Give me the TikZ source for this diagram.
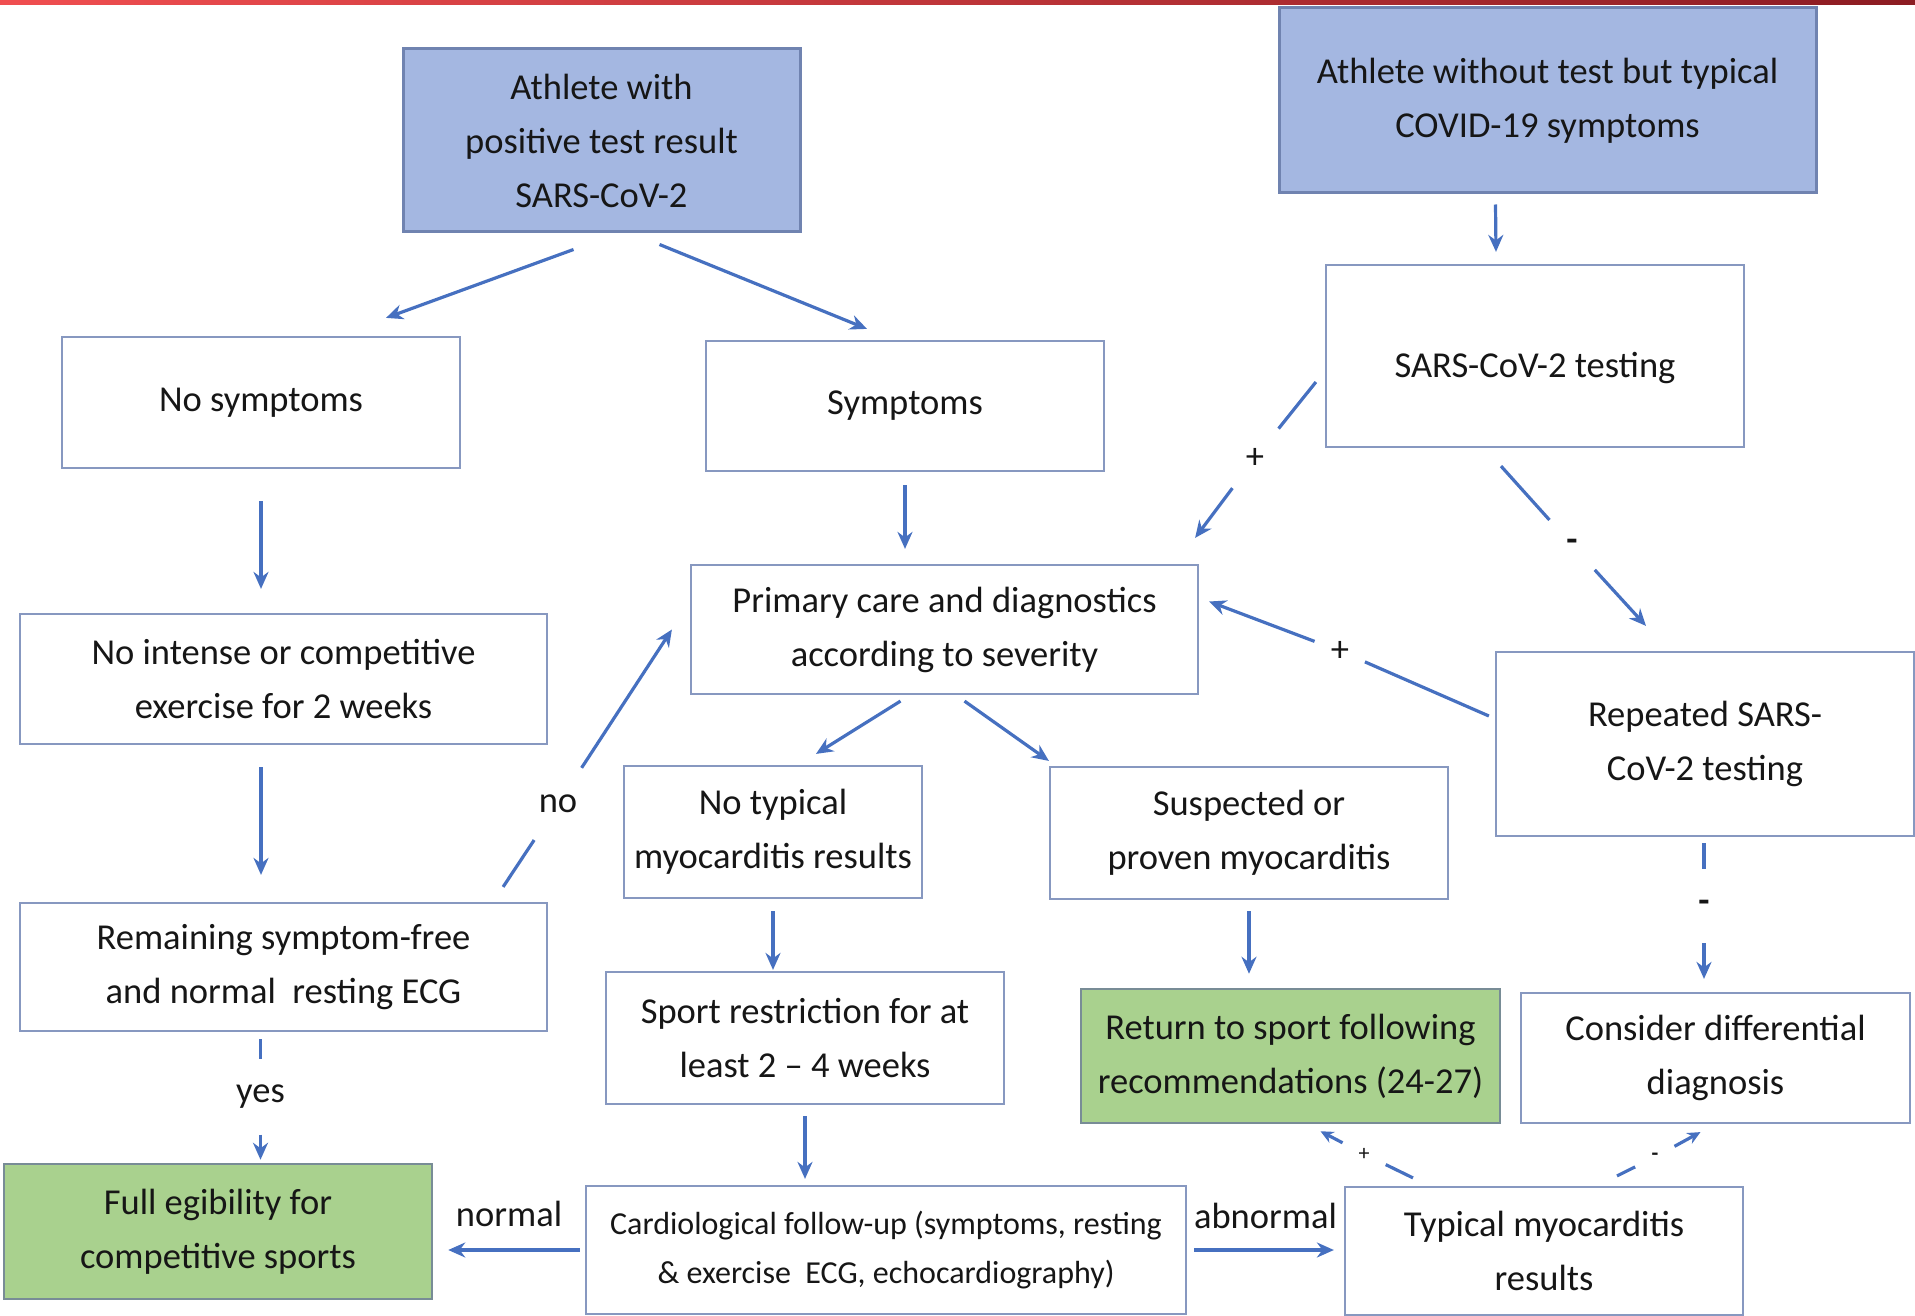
\documentclass[tikz,border=0pt]{standalone}
\usepackage{fontspec}
\setmainfont{Carlito}
\usetikzlibrary{arrows.meta}
\definecolor{topfill}{RGB}{164,183,225}
\definecolor{topline}{RGB}{112,131,176}
\definecolor{endfill}{RGB}{169,209,142}
\definecolor{endline}{RGB}{120,140,150}
\definecolor{boxline}{RGB}{135,152,192}
\definecolor{arrowblue}{RGB}{70,112,192}
\definecolor{txt}{RGB}{22,22,22}
\definecolor{barL}{RGB}{240,78,80}
\definecolor{barR}{RGB}{140,28,34}
\begin{document}
\begin{tikzpicture}[
  x=1pt, y=-1pt,
  font=\fontsize{36.5}{54}\selectfont,
  box/.style={rectangle,draw=boxline,line width=2.2pt,fill=white,align=center,inner sep=0pt,text=txt},
  topbox/.style={box,draw=topline,fill=topfill,line width=3pt},
  endbox/.style={box,draw=endline,fill=endfill,line width=2.5pt},
  conn/.style={draw=arrowblue,line width=3.2pt},
  arr/.style={conn,-{Stealth[length=17pt,width=15pt]}},
  lbl/.style={circle,inner sep=0pt,text=txt},
]
  \useasboundingbox (0,0) rectangle (1915,1316);
  \shade[left color=barL,right color=barR] (0,0) rectangle (1915,5);

  % top: the two ways in
  \node[topbox,minimum width=397pt,minimum height=183pt] (pos) at (601.5,140.5) {Athlete with\\positive test result\\SARS-CoV-2};
  \node[topbox,minimum width=537pt,minimum height=185pt] (noTest) at (1547.5,100.5) {Athlete without test but typical\\COVID-19 symptoms};

  % second row
  \node[box,minimum width=398pt,minimum height=131pt] (noSym) at (261,402.5) {No symptoms};
  \node[box,minimum width=398pt,minimum height=130pt] (sym) at (905,406) {Symptoms};
  \node[box,minimum width=418pt,minimum height=182pt] (test) at (1535,356) {\raisebox{-12pt}[\height][\depth]{SARS-CoV-2 testing}};

  % middle
  \node[box,minimum width=527pt,minimum height=130pt] (noInt) at (283.5,679) {No intense or competitive\\exercise for 2 weeks};
  \node[box,minimum width=507pt,minimum height=129pt] (prim) at (944.5,629.5) {Primary care and diagnostics\\according to severity};
  \node[box,minimum width=418pt,minimum height=184pt] (rep) at (1705,744) {Repeated SARS-\\CoV-2 testing};
  \node[box,minimum width=298pt,minimum height=132pt] (noTyp) at (773,832) {No typical\\myocarditis results};
  \node[box,minimum width=398pt,minimum height=132pt] (susp) at (1249,833) {Suspected or\\proven myocarditis};
  \node[box,minimum width=527pt,minimum height=128pt] (rem) at (283.5,967) {Remaining symptom-free\\and normal~ resting ECG};

  % lower rows
  \node[box,minimum width=398pt,minimum height=132pt] (sport) at (805,1038) {Sport restriction for at\\least 2 -- 4 weeks};
  \node[endbox,minimum width=419pt,minimum height=134pt] (ret) at (1290.5,1056) {Return to sport following\\recommendations (24-27)};
  \node[box,minimum width=389pt,minimum height=130pt] (diff) at (1715.5,1058) {Consider differential\\diagnosis};
  \node[endbox,minimum width=428pt,minimum height=135pt] (full) at (218,1231.5) {Full egibility for\\competitive sports};
  \node[box,minimum width=600pt,minimum height=128pt,font=\fontsize{32}{49}\selectfont] (cardio) at (886,1250) {Cardiological follow-up (symptoms, resting\\\& exercise~ ECG, echocardiography)};
  \node[box,minimum width=398pt,minimum height=128pt] (typ) at (1544,1251) {Typical myocarditis\\results};

  % plain arrows
  \draw[arr] ([shift={(-28,16)}]pos.south) -- ([shift={(125,-18)}]noSym.north);
  \draw[arr] ([shift={(58,11)}]pos.south) -- ([shift={(-38,-11)}]sym.north);
  \draw[arr] ([shift={(-52,10)}]noTest.south) -- ([shift={(-39,-12)}]test.north);
  \draw[arr,shorten <=32pt,shorten >=24pt] (noSym.south) -- (noSym.south |- noInt.north);
  \draw[arr,shorten <=22pt,shorten >=27pt] (noSym.south |- noInt.south) -- (noSym.south |- rem.north);
  \draw[arr,shorten <=13pt,shorten >=15pt] (sym.south) -- (sym.south |- prim.north);
  \draw[arr] ([shift={(-44,6)}]prim.south) -- ([shift={(43,-11)}]noTyp.north);
  \draw[arr] ([shift={(20,6)}]prim.south) -- ([shift={(0,-5)}]susp.north west);
  \draw[arr,shorten <=12pt,shorten >=1pt] (noTyp.south) -- (noTyp.south |- sport.north);
  \draw[arr,shorten <=11pt,shorten >=14pt] (susp.south) -- (susp.south |- ret.north);
  \draw[arr,shorten <=11pt,shorten >=6pt] (sport.south) -- (sport.south |- cardio.north);
  \draw[arr,shorten <=5pt,shorten >=15pt] (cardio.west) -- (cardio.west -| full.east)
    node[midway,above=22pt,inner sep=0pt,text=txt] (normalLbl) {normal};
  \draw[arr,shorten <=7pt,shorten >=10pt] (cardio.east) -- (cardio.east -| typ.west)
    node[midway,above=20pt,inner sep=0pt,text=txt] (abnormalLbl) {abnormal};

  % arrows broken by a label
  \node[lbl,minimum size=86pt] (noLbl) at (558,804) {no};
  \draw[conn] ([shift={(-45,-15)}]rem.north east) -- (noLbl);
  \draw[arr] (noLbl) -- ([shift={(-18,0)}]prim.west);

  \node[lbl,minimum size=75pt] (yesLbl) at (260.5,1097) {yes};
  \draw[conn] ([shift={(-23,7)}]rem.south) -- (yesLbl);
  \draw[arr,shorten >=3pt] (yesLbl) -- (yesLbl |- full.north);

  \node[lbl,minimum size=75pt] (plusA) at (1255,458) {+};
  \draw[conn] ([shift={(-9,26)}]test.west) -- (plusA);
  \draw[arr] (plusA) -- ([shift={(-4,-26)}]prim.north east);

  \node[lbl,minimum size=67pt] (minusA) at (1572,545) {\textbf{-}};
  \draw[conn] ([shift={(-34,18)}]test.south) -- (minusA);
  \draw[arr] (minusA) -- ([shift={(-59,-25)}]rep.north);

  \node[lbl,minimum size=54pt] (plusB) at (1340,651) {+};
  \draw[conn] ([shift={(-6,-28)}]rep.west) -- (plusB);
  \draw[arr] (plusB) -- ([shift={(10,-28)}]prim.east);

  \node[lbl,minimum size=74pt] (minusB) at (1704,906) {\textbf{-}};
  \draw[conn] ([shift={(-1,6)}]rep.south) -- (minusB);
  \draw[arr,shorten >=13pt] (minusB) -- (minusB |- diff.north);

  % small ones under the green box
  \node[lbl,minimum size=48pt,font=\fontsize{22}{24}\selectfont] (plusC) at (1364,1154) {+};
  \draw[conn] ([shift={(-131,-8)}]typ.north) -- (plusC);
  \draw[conn,-{Stealth[length=13pt,width=12pt]}] (plusC) -- ([shift={(30,7)}]ret.south);

  \node[lbl,minimum size=44pt,font=\fontsize{22}{24}\selectfont] (minusC) at (1655,1157) {\textbf{-}};
  \draw[conn] ([shift={(73,-10)}]typ.north) -- (minusC);
  \draw[conn,-{Stealth[length=13pt,width=12pt]}] (minusC) -- ([shift={(-15,8)}]diff.south);
\end{tikzpicture}
\end{document}
